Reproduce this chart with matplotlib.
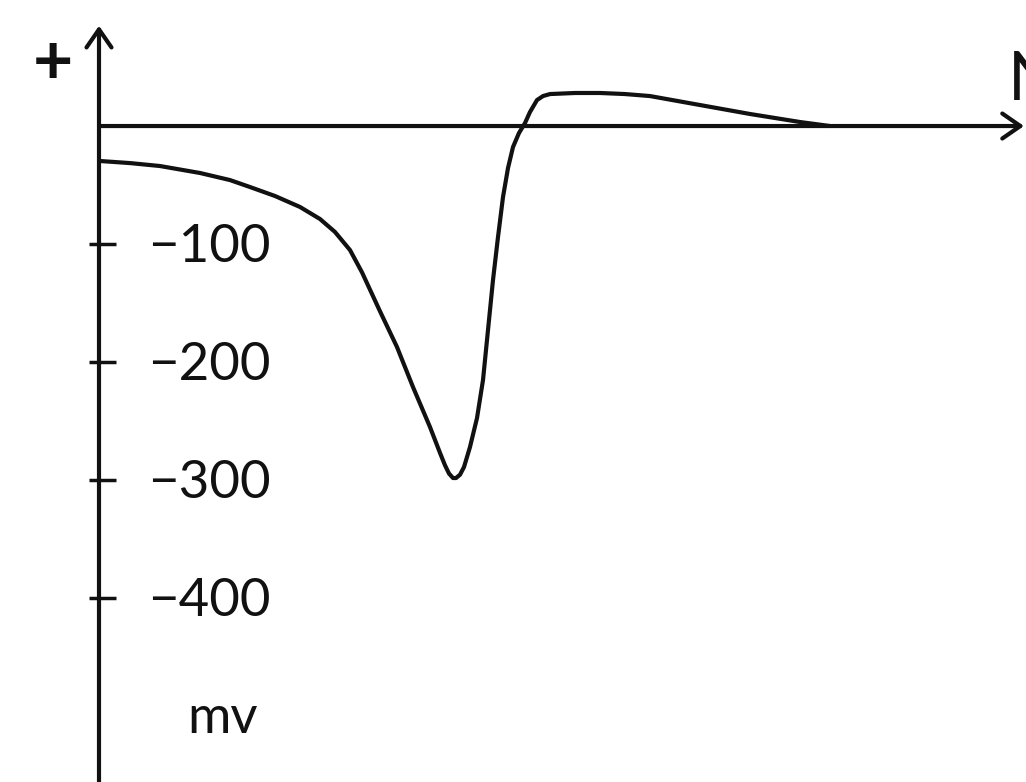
import matplotlib
matplotlib.use("Agg")
import matplotlib.pyplot as plt

# time (arbitrary units) and membrane potential (mV)
t = [2, 31, 61, 101, 131, 151, 176, 201, 221, 236, 251, 263, 281, 298, 314,
     331, 341, 346, 350, 354, 357, 361, 365, 371, 378, 384, 389, 394, 399,
     404, 409, 414, 420, 426, 431, 438, 444, 451, 476, 501, 526, 551, 601,
     651, 701, 731]
mv = [-29.7, -31.4, -33.9, -39.8, -45.8, -51.7, -59.3, -68.6, -78.8, -89.8,
      -105.1, -124.0, -157.0, -187.3, -221.2, -255.1, -277.0, -287.5, -294.5,
      -298.3, -298.3, -295.5, -289.0, -272.0, -247.5, -215.3, -172.9, -130.5,
      -94.1, -60.2, -35.6, -17.8, -5.9, 2.5, 11.9, 22.0, 25.4, 27.1, 28.0,
      28.0, 27.1, 25.4, 17.8, 10.2, 3.4, 0.0]

tick_vals = [-100, -200, -300, -400]
tick_labels = ["\u2212100", "\u2212200", "\u2212300", "\u2212400"]

plt.rcParams["font.family"] = ["Lato", "DejaVu Sans"]

fig = plt.figure(figsize=(10.26, 7.82), dpi=100)
ax = fig.add_axes([0, 0, 1, 1])
ax.set_xlim(-99, 927)
ax.set_ylim(-555.9, 106.8)
ax.axis("off")

lw = 3
# axes with arrow heads
arrow = dict(arrowstyle="->,head_length=0.65,head_width=0.45", lw=lw,
             color="#111111", shrinkA=0, shrinkB=0, mutation_scale=20)
ax.annotate("", xy=(0, 85), xytext=(0, -560), arrowprops=arrow)
ax.annotate("", xy=(925, 0), xytext=(0, 0), arrowprops=arrow)

# tick marks crossing the vertical axis and their labels
ax.hlines(tick_vals, -10, 17, color="#111111", lw=2.5)
for v, lab in zip(tick_vals, tick_labels):
    ax.text(49, v - 3, lab, fontsize=38, ha="left", va="center", color="#111111")

ax.text(-46, 52, "+", fontsize=50, fontweight="bold", ha="center", va="center",
        color="#111111")
ax.text(124, -502, "mv", fontsize=38, ha="center", va="center", color="#111111")
ax.text(909, 22, "N", fontsize=48, ha="left", va="baseline", color="#111111")

ax.plot(t, mv, color="#111111", lw=lw, solid_joinstyle="round", solid_capstyle="round")

fig.savefig("out.png", dpi=100)
